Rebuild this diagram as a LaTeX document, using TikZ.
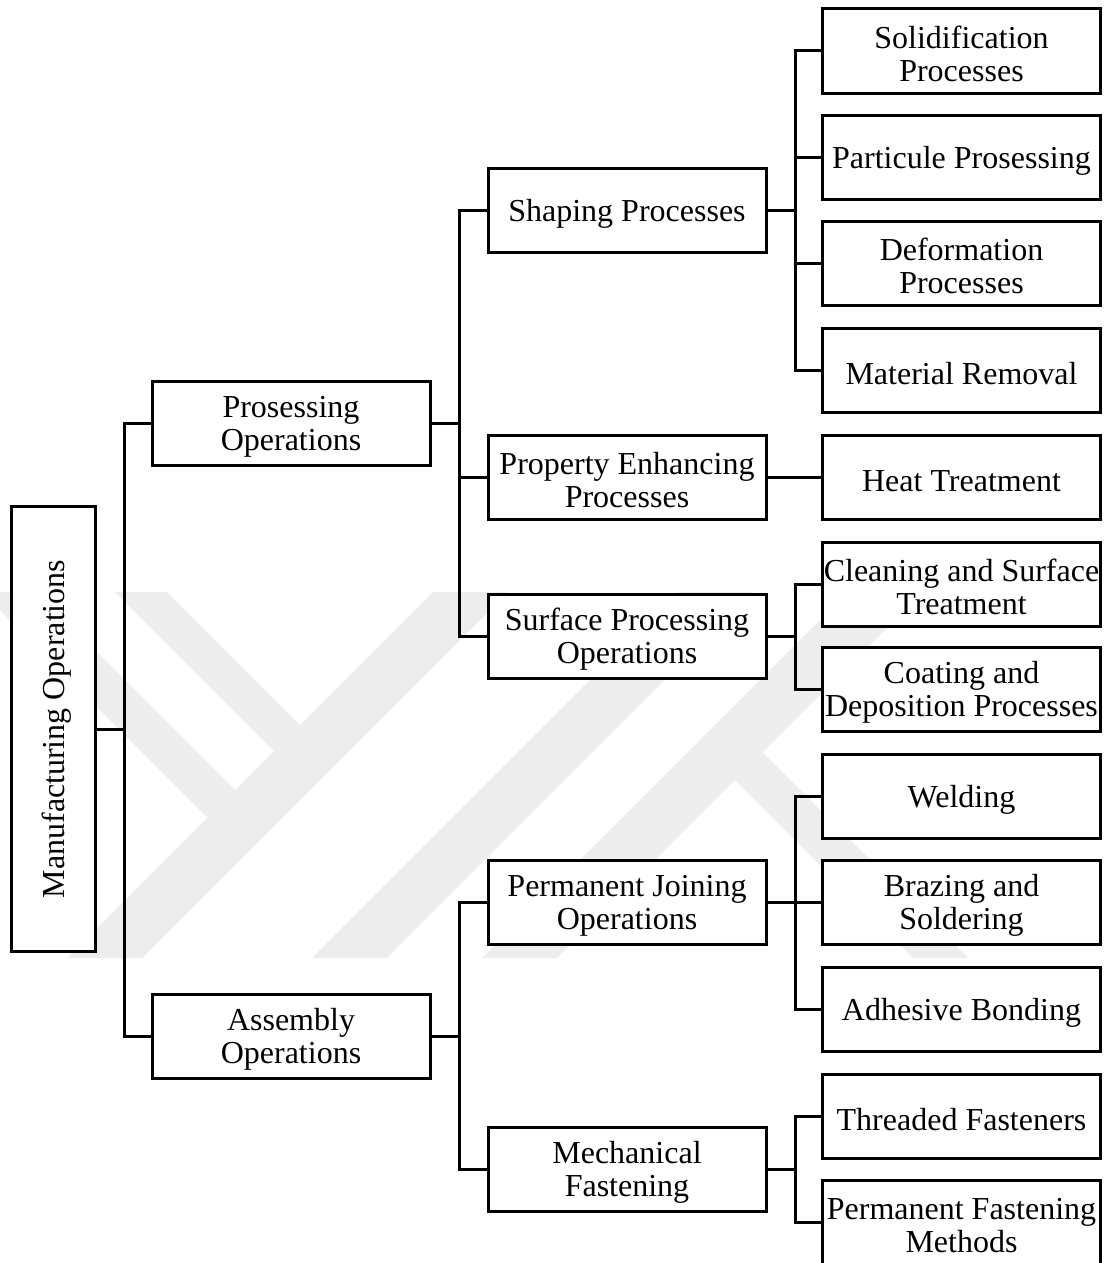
\documentclass[tikz,border=0pt]{standalone}
\usepackage{fontspec}
\setmainfont{Liberation Serif}
\begin{document}
\begin{tikzpicture}[x=1pt,y=-1pt,
  box/.style={draw=black, line width=3pt, fill=white, minimum width=278pt, minimum height=84pt,
    inner sep=0pt, align=center, text height=29pt, font=\fontsize{32}{33}\selectfont},
  box2/.style={box, text height=62pt},
  conn/.style={draw=black, line width=3pt},
  wm/.style={fill=black!7, draw=none}]
\useasboundingbox (0,0) rectangle (1109,1263);
% faint background watermark
\begin{scope}
\clip (0,592) rectangle (1000,958);
\fill[wm] (67,958) -- (142,958) -- (508,592) -- (433,592) -- cycle;
\fill[wm] (115,592) -- (167,592) -- (300,725) -- (274,751) -- cycle;
\fill[wm] (-18,592) -- (37,592) -- (235,790) -- (207.5,817.5) -- cycle;
\fill[wm] (312,958) -- (387,958) -- (753,592) -- (678,592) -- cycle;
\fill[wm] (482,958) -- (557,958) -- (923,592) -- (848,592) -- cycle;
\fill[wm] (725,715) -- (968,958) -- (913,958) -- (697.5,742.5) -- cycle;
\end{scope}
% nodes
\node[box, rotate=90, minimum width=445pt] (man) at (53,729) {Manufacturing Operations};
\node[box2] (proc) at (291,423) {Prosessing\\Operations};
\node[box2] (asm) at (291,1036) {Assembly\\Operations};
\node[box] (shape) at (627,210) {Shaping Processes};
\node[box2] (prop) at (627,477) {Property Enhancing\\Processes};
\node[box2] (surf) at (627,636) {Surface Processing\\Operations};
\node[box2] (join) at (627,902) {Permanent Joining\\Operations};
\node[box2] (mech) at (627,1169) {Mechanical\\Fastening};
\node[box2] (solid) at (961.5,51) {Solidification\\Processes};
\node[box] (part) at (961.5,157) {Particule Prosessing};
\node[box2] (deform) at (961.5,263) {Deformation\\Processes};
\node[box] (remov) at (961.5,370) {Material Removal};
\node[box] (heat) at (961.5,477) {Heat Treatment};
\node[box2] (clean) at (961.5,584) {Cleaning and Surface\\Treatment};
\node[box2] (coat) at (961.5,689) {Coating and\\Deposition Processes};
\node[box] (weld) at (961.5,796) {Welding};
\node[box2] (braze) at (961.5,902) {Brazing and\\Soldering};
\node[box] (adh) at (961.5,1009) {Adhesive Bonding};
\node[box] (thread) at (961.5,1116) {Threaded Fasteners};
\node[box2] (pfast) at (961.5,1222) {Permanent Fastening\\Methods};
% connectors
\draw[conn] (man.south) -- ++(28,0) coordinate (j0);
\draw[conn] (j0) |- (proc.west);
\draw[conn] (j0) |- (asm.west);
\draw[conn] (proc.east) -- ++(28,0) coordinate (j1);
\draw[conn] (j1) |- (shape.west);
\draw[conn] (j1) |- (prop.west);
\draw[conn] (j1) |- (surf.west);
\draw[conn] (asm.east) -- ++(28,0) coordinate (j2);
\draw[conn] (j2) |- (join.west);
\draw[conn] (j2) |- (mech.west);
\draw[conn] (shape.east) -- ++(28,0) coordinate (j3);
\foreach \c in {solid,part,deform,remov} \draw[conn] (j3) |- (\c.west);
\draw[conn] (prop.east) -- (heat.west);
\draw[conn] (surf.east) -- ++(28,0) coordinate (j4);
\foreach \c in {clean,coat} \draw[conn] (j4) |- (\c.west);
\draw[conn] (join.east) -- ++(28,0) coordinate (j5);
\foreach \c in {weld,braze,adh} \draw[conn] (j5) |- (\c.west);
\draw[conn] (mech.east) -- ++(28,0) coordinate (j6);
\foreach \c in {thread,pfast} \draw[conn] (j6) |- (\c.west);
\end{tikzpicture}
\end{document}
